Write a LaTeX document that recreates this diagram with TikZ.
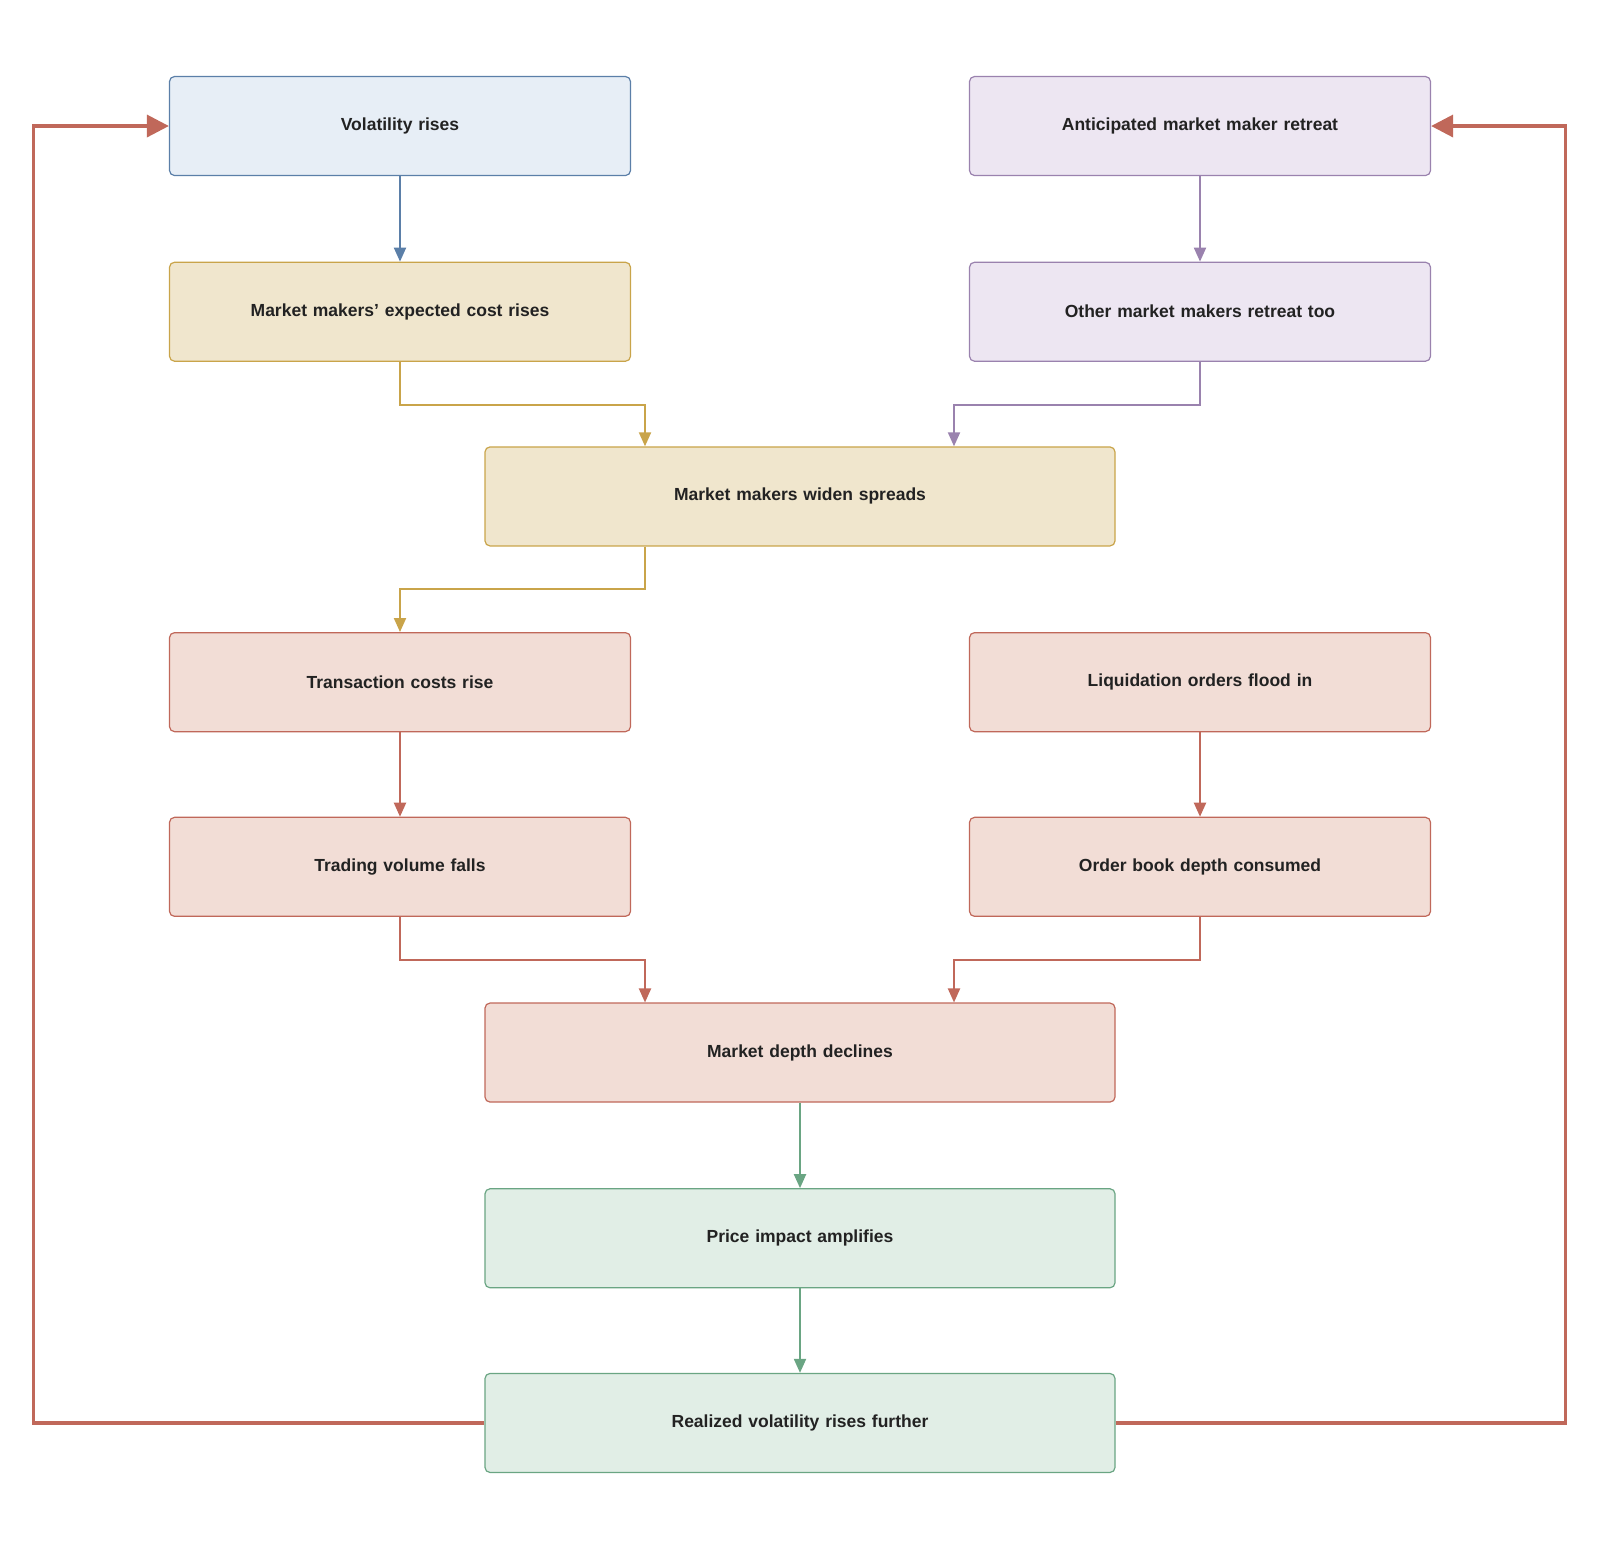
\documentclass[tikz,border=0pt]{standalone}
\usepackage{fontspec}
\setmainfont{Liberation Sans}
\usetikzlibrary{arrows.meta}
\definecolor{bF}{HTML}{E7EEF6}\definecolor{bS}{HTML}{5B7FA8}
\definecolor{yF}{HTML}{F0E6CD}\definecolor{yS}{HTML}{C9A44A}
\definecolor{pF}{HTML}{EDE6F2}\definecolor{pS}{HTML}{9A82AE}
\definecolor{rF}{HTML}{F2DDD6}\definecolor{rS}{HTML}{C0685A}
\definecolor{gF}{HTML}{E1EEE6}\definecolor{gS}{HTML}{6AA583}
\definecolor{tx}{HTML}{222222}
\begin{document}
\begin{tikzpicture}[x=1.0204pt,y=-1.0204pt,
 box/.style={draw,rounded corners=5pt,line width=1.2pt,minimum height=99pt,align=center,
   font=\fontsize{17.5}{28}\selectfont\bfseries,text=tx,inner sep=0pt},
 sm/.style={box,minimum width=461pt,text width=410pt},
 wd/.style={box,minimum width=630pt,text width=600pt},
 blue/.style={fill=bF,draw=bS}, yel/.style={fill=yF,draw=yS},
 pur/.style={fill=pF,draw=pS}, red/.style={fill=rF,draw=rS}, grn/.style={fill=gF,draw=gS},
 ar/.style={line width=2pt,-{Triangle[length=14pt,width=12pt]}},
 fb/.style={line width=3.5pt,draw=rS,-{Triangle[length=22pt,width=22pt]}}]
\useasboundingbox (0,0) rectangle (1568,1527);
\node[sm,blue] (A) at (392,123.5) {Volatility rises};
\node[sm,yel] (B) at (392,305.5) {Market makers' expected cost rises};
\node[sm,pur] (C) at (1176,123.5) {Anticipated market maker retreat};
\node[sm,pur] (D) at (1176,305.5) {Other market makers retreat too};
\node[wd,yel] (W) at (784,486.5) {Market makers widen spreads};
\node[sm,red] (T) at (392,668.5) {Transaction costs rise};
\node[sm,red] (L) at (1176,668.5) {Liquidation orders flood in};
\node[sm,red] (V) at (392,849.5) {Trading volume falls};
\node[sm,red] (O) at (1176,849.5) {Order book depth consumed};
\node[wd,red] (M) at (784,1031.5) {Market depth declines};
\node[wd,grn] (P) at (784,1213.5) {Price impact amplifies};
\node[wd,grn] (R) at (784,1394.5) {Realized volatility rises further};
\draw[ar,bS] (A) -- (B);
\draw[ar,pS] (C) -- (D);
\draw[ar,yS] (B.south) -- ++(0,42) -| ([xshift=-155pt]W.north);
\draw[ar,pS] (D.south) -- ++(0,42) -| ([xshift=154pt]W.north);
\draw[ar,yS] ([xshift=-155pt]W.south) -- ++(0,42) -| (T.north);
\draw[ar,rS] (T) -- (V);
\draw[ar,rS] (L) -- (O);
\draw[ar,rS] (V.south) -- ++(0,42) -| ([xshift=-155pt]M.north);
\draw[ar,rS] (O.south) -- ++(0,42) -| ([xshift=154pt]M.north);
\draw[ar,gS] (M) -- (P);
\draw[ar,gS] (P) -- (R);
\coordinate (lc) at (33,1394.5); \coordinate (rc) at (1534,1394.5);
\draw[fb] (R.west) -- (lc) |- (A.west);
\draw[fb] (R.east) -- (rc) |- (C.east);
\end{tikzpicture}
\end{document}
